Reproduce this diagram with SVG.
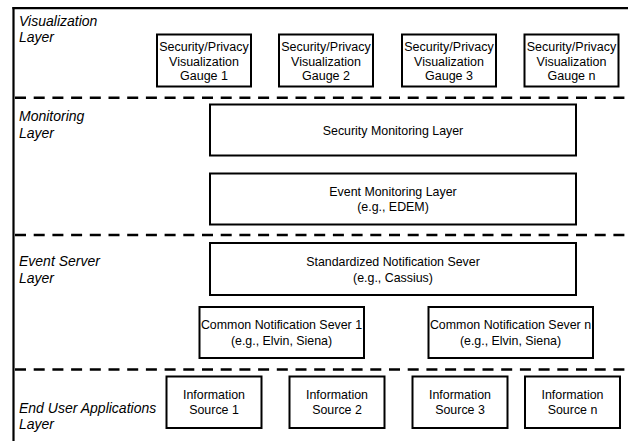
<svg xmlns="http://www.w3.org/2000/svg" width="628" height="441" viewBox="0 0 628 441">
  <style>
    .frame { stroke: #000; stroke-width: 2.2; fill: none; }
    .sep { stroke: #000; stroke-width: 2.6; stroke-dasharray: 11 7.7; fill: none; }
    .box { fill: #fff; stroke: #000; stroke-width: 2; }
    .lbl { font-family: "Liberation Sans", Arial, sans-serif; font-style: italic; font-size: 14px; fill: #000; }
    .txt { font-family: "Liberation Sans", Arial, sans-serif; font-size: 12.4px; fill: #000; text-anchor: middle; }
    .gt { font-family: "Liberation Sans", Arial, sans-serif; font-size: 12.5px; fill: #000; text-anchor: middle; }
  </style>
  <rect width="628" height="441" fill="#fff"/>

  <!-- outer frame: left rule and top rule -->
  <g id="frame">
    <line class="frame" x1="13.5" y1="7" x2="13.5" y2="441"/>
    <line class="frame" x1="12.4" y1="8.2" x2="628" y2="8.2"/>
  </g>

  <!-- layer separators -->
  <g id="separators">
    <line class="sep" x1="15" y1="97.8" x2="628" y2="97.8"/>
    <line class="sep" x1="15" y1="235" x2="628" y2="235"/>
    <line class="sep" x1="15" y1="369.5" x2="628" y2="369.5"/>
  </g>

  <!-- layer names -->
  <g id="layer-labels">
    <text class="lbl" x="19" y="26">Visualization</text>
    <text class="lbl" x="19" y="42">Layer</text>
    <text class="lbl" x="19" y="121">Monitoring</text>
    <text class="lbl" x="19" y="137.5">Layer</text>
    <text class="lbl" x="19" y="266">Event Server</text>
    <text class="lbl" x="19" y="282.5">Layer</text>
    <text class="lbl" x="19" y="412.5">End User Applications</text>
    <text class="lbl" x="19" y="429">Layer</text>
  </g>

  <!-- visualization gauges -->
  <g id="gauge-1">
    <rect class="box" x="157" y="34.5" width="94" height="52"/>
    <text class="gt" x="204" y="51">Security/Privacy</text>
    <text class="gt" x="204" y="65.5">Visualization</text>
    <text class="gt" x="204" y="80">Gauge 1</text>
  </g>
  <g id="gauge-2">
    <rect class="box" x="279" y="34.5" width="94" height="52"/>
    <text class="gt" x="326" y="51">Security/Privacy</text>
    <text class="gt" x="326" y="65.5">Visualization</text>
    <text class="gt" x="326" y="80">Gauge 2</text>
  </g>
  <g id="gauge-3">
    <rect class="box" x="402" y="34.5" width="94" height="52"/>
    <text class="gt" x="449" y="51">Security/Privacy</text>
    <text class="gt" x="449" y="65.5">Visualization</text>
    <text class="gt" x="449" y="80">Gauge 3</text>
  </g>
  <g id="gauge-n">
    <rect class="box" x="524.5" y="34.5" width="94" height="52"/>
    <text class="gt" x="571.5" y="51">Security/Privacy</text>
    <text class="gt" x="571.5" y="65.5">Visualization</text>
    <text class="gt" x="571.5" y="80">Gauge n</text>
  </g>

  <!-- monitoring layer -->
  <g id="security-monitoring">
    <rect class="box" x="210" y="104.5" width="366" height="51"/>
    <text class="txt" x="393" y="134.5">Security Monitoring Layer</text>
  </g>
  <g id="event-monitoring">
    <rect class="box" x="210" y="173.5" width="366" height="51"/>
    <text class="txt" x="393" y="196">Event Monitoring Layer</text>
    <text class="txt" x="393" y="211">(e.g., EDEM)</text>
  </g>

  <!-- event server layer -->
  <g id="standardized-server">
    <rect class="box" x="210" y="243" width="366" height="52"/>
    <text class="txt" x="393" y="266">Standardized Notification Sever</text>
    <text class="txt" x="393" y="281.5">(e.g., Cassius)</text>
  </g>
  <g id="common-server-1">
    <rect class="box" x="199.5" y="307" width="164.5" height="51"/>
    <text class="txt" x="281.5" y="329">Common Notification Sever 1</text>
    <text class="txt" x="281.5" y="344.5">(e.g., Elvin, Siena)</text>
  </g>
  <g id="common-server-n">
    <rect class="box" x="428.5" y="307" width="164.5" height="51"/>
    <text class="txt" x="510.5" y="329">Common Notification Sever n</text>
    <text class="txt" x="510.5" y="344.5">(e.g., Elvin, Siena)</text>
  </g>

  <!-- end user applications -->
  <g id="source-1">
    <rect class="box" x="166.5" y="376.5" width="95" height="51.5"/>
    <text class="txt" x="214" y="398.5">Information</text>
    <text class="txt" x="214" y="414">Source 1</text>
  </g>
  <g id="source-2">
    <rect class="box" x="289.5" y="376.5" width="95" height="51.5"/>
    <text class="txt" x="337" y="398.5">Information</text>
    <text class="txt" x="337" y="414">Source 2</text>
  </g>
  <g id="source-3">
    <rect class="box" x="412.5" y="376.5" width="95" height="51.5"/>
    <text class="txt" x="460" y="398.5">Information</text>
    <text class="txt" x="460" y="414">Source 3</text>
  </g>
  <g id="source-n">
    <rect class="box" x="525" y="376.5" width="95" height="51.5"/>
    <text class="txt" x="572.5" y="398.5">Information</text>
    <text class="txt" x="572.5" y="414">Source n</text>
  </g>
</svg>
